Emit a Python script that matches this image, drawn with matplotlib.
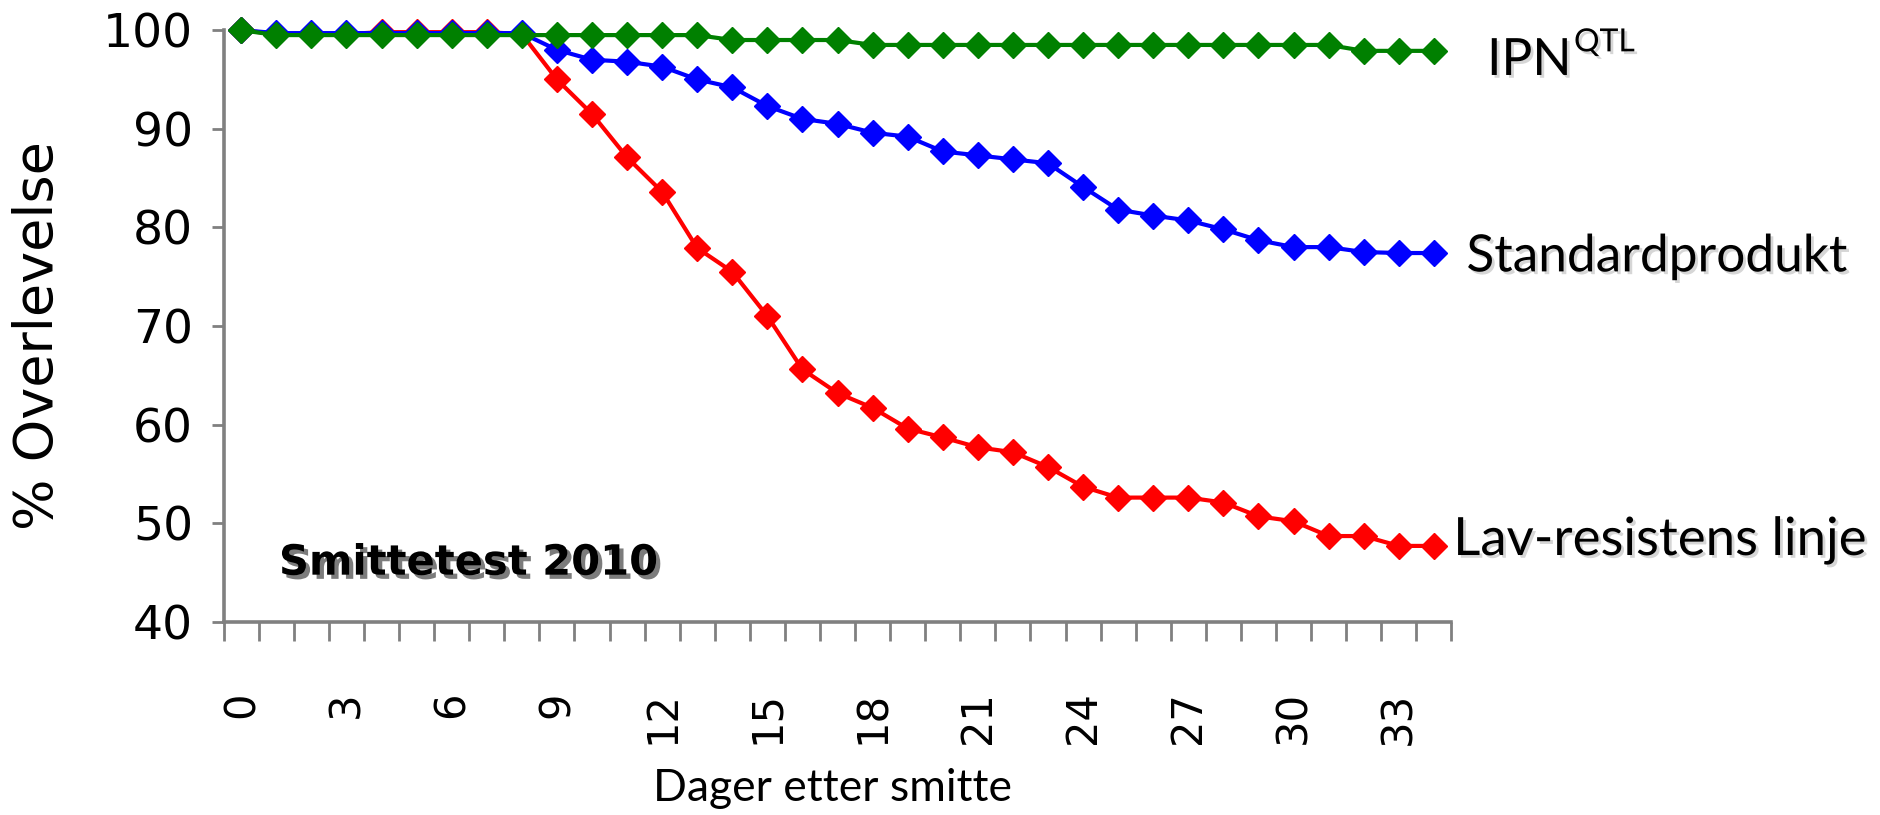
import matplotlib
matplotlib.use("Agg")
import matplotlib.pyplot as plt
import matplotlib.patheffects as pe
from matplotlib.ticker import MultipleLocator, FixedLocator

# dager etter smitte
dager = list(range(35))

ipn_qtl = [100, 99.5, 99.5, 99.5, 99.5, 99.5, 99.5, 99.5, 99.5, 99.5, 99.5, 99.5, 99.5, 99.5,
           99.0, 99.0, 99.0, 99.0, 98.5, 98.5, 98.5, 98.5, 98.5, 98.5, 98.5, 98.5, 98.5, 98.5,
           98.5, 98.5, 98.5, 98.5, 97.9, 97.9, 97.9]

standard = [100, 99.7, 99.7, 99.7, 99.7, 99.7, 99.7, 99.7, 99.7, 98.0, 97.0, 96.8, 96.3, 95.0,
            94.2, 92.3, 91.0, 90.5, 89.6, 89.2, 87.7, 87.3, 86.9, 86.5, 84.1, 81.8, 81.2, 80.7,
            79.8, 78.7, 78.0, 78.0, 77.5, 77.4, 77.4]

lav_res = [100, 99.6, 99.6, 99.6, 99.8, 99.8, 99.8, 99.8, 99.6, 95.0, 91.5, 87.1, 83.6, 77.9,
           75.5, 71.0, 65.6, 63.2, 61.7, 59.6, 58.7, 57.7, 57.2, 55.7, 53.7, 52.6, 52.6, 52.6,
           52.1, 50.7, 50.2, 48.7, 48.7, 47.7, 47.7]

xtick_vals = [0, 3, 6, 9, 12, 15, 18, 21, 24, 27, 30, 33]

fig = plt.figure(figsize=(18.8, 8.15), dpi=100)
ax = fig.add_axes([0.119, 0.237, 0.653, 0.726])

serier = [(lav_res, "#ff0000"), (standard, "#0000ff"), (ipn_qtl, "#008000")]
for y, c in serier:
    ax.plot(dager, y, color=c, lw=3, marker="D", ms=13.5, mfc=c, mec=c, clip_on=False, zorder=3)

ax.set_xlim(-0.5, 34.5)
ax.set_ylim(40, 100)

for s in ["top", "right"]:
    ax.spines[s].set_visible(False)
for s in ["left", "bottom"]:
    ax.spines[s].set_color("#808080")
    ax.spines[s].set_linewidth(2.6)

ax.yaxis.set_major_locator(MultipleLocator(10))
ax.tick_params(axis="y", length=9, width=2, color="#808080", pad=13, labelsize=34)
ax.set_xticks(xtick_vals)
ax.set_xticklabels([str(v) for v in xtick_vals], rotation=90, fontsize=30)
ax.xaxis.set_minor_locator(FixedLocator([i - 0.5 for i in range(36)]))
ax.tick_params(axis="x", which="major", length=0, pad=50)
ax.tick_params(axis="x", which="minor", length=14, width=2, color="#808080")
for lbl in ax.get_yticklabels() + ax.get_xticklabels():
    lbl.set_fontfamily("DejaVu Sans")

fig.text(0.020, 0.588, "% Overlevelse", rotation=90, fontsize=39, family="DejaVu Sans",
         ha="center", va="center")
fig.text(0.443, 0.017, "Dager etter smitte", fontsize=32, family="Lato", ha="center", va="baseline")

ax.text(0.045, 0.10, "Smittetest 2010", transform=ax.transAxes, fontsize=30, fontweight="bold",
        family="DejaVu Sans", va="center",
        path_effects=[pe.withSimplePatchShadow(offset=(3, -3), shadow_rgbFace="#444444", alpha=0.7)])

skygge = [pe.withSimplePatchShadow(offset=(2, -2), shadow_rgbFace="#999999", alpha=0.4)]
t_ipn = fig.text(0.791, 0.908, "IPN", fontsize=37, family="Lato", va="baseline", path_effects=skygge)
fig.text(0.780, 0.667, "Standardprodukt", fontsize=37, family="Lato", va="baseline", path_effects=skygge)
fig.text(0.773, 0.319, "Lav-resistens linje", fontsize=38, family="Lato", va="baseline", path_effects=skygge)

fig.canvas.draw()
bb = t_ipn.get_window_extent()
fig.text((bb.x1 + 2) / fig.bbox.width, 0.937, "QTL", fontsize=23, family="Lato", va="baseline",
         path_effects=skygge)

fig.savefig("out.png", dpi=100)
